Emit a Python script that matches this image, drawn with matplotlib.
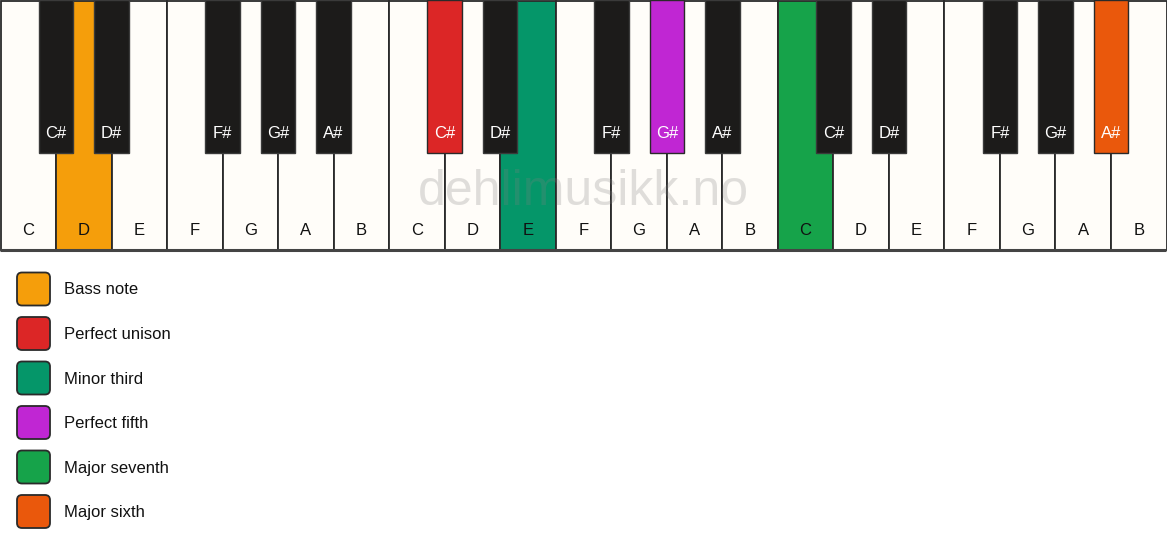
import matplotlib
matplotlib.use("Agg")
import matplotlib.pyplot as plt
from matplotlib.patches import Rectangle, FancyBboxPatch

plt.rcParams['font.family'] = ['Liberation Sans', 'DejaVu Sans']

# ---- data ----
octaves = 3
white_notes = ['C', 'D', 'E', 'F', 'G', 'A', 'B']
black_notes = ['C#', 'D#', 'F#', 'G#', 'A#']
black_after_white = [0, 1, 3, 4, 5]  # black key sits after this white index in octave

# highlighted keys: (note, octave index, legend label)
highlights = [
    ('D', 0, 'Bass note'),
    ('C#', 1, 'Perfect unison'),
    ('E', 1, 'Minor third'),
    ('G#', 1, 'Perfect fifth'),
    ('C', 2, 'Major seventh'),
    ('A#', 2, 'Major sixth'),
]
legend_labels = ['Bass note', 'Perfect unison', 'Minor third',
                 'Perfect fifth', 'Major seventh', 'Major sixth']
legend_colors = ['#F59E0B', '#DC2626', '#059669', '#C026D3', '#16A34A', '#EA580C']
watermark = 'dehlimusikk.no'

# ---- layout ----
W, H = 1167, 550
fig = plt.figure(figsize=(W / 100, H / 100), dpi=100)
ax = fig.add_axes([0, 0, 1, 1])
ax.set_xlim(0, W)
ax.set_ylim(H, 0)
ax.axis('off')
fig.patch.set_facecolor('white')

n_white = len(white_notes) * octaves
kw = (W - 1) / n_white
white_h = 249
black_w = 34.5
black_h = 153

color_of = {lab: c for lab, c in zip(legend_labels, legend_colors)}
hl = {(n, o): color_of[lab] for n, o, lab in highlights}

# white keys
for o in range(octaves):
    for i, n in enumerate(white_notes):
        x = (o * 7 + i) * kw + 0.5
        fc = hl.get((n, o), '#FFFDF9')
        ax.add_patch(Rectangle((x, 0.5), kw, white_h, facecolor=fc,
                               edgecolor='#2a2a2a', lw=1.3, zorder=1))
        ax.text(x + kw / 2, 230.5, n, ha='center', va='center',
                fontsize=12, color='#111111', zorder=5)

# bottom border
ax.plot([0, W - 1], [white_h + 0.5, white_h + 0.5], color='#444444', lw=2.2, zorder=2,
        solid_capstyle='butt')

# watermark
ax.text(W / 2, 192, watermark, ha='center', va='center', fontsize=36,
        color='#808080', alpha=0.25, zorder=3)

# black keys
for o in range(octaves):
    for n, wi in zip(black_notes, black_after_white):
        cx = (o * 7 + wi + 1) * kw + 0.5
        fc = hl.get((n, o), '#1C1B1A')
        ec = '#2a2a2a' if (n, o) in hl else '#3a3a3a'
        ax.add_patch(Rectangle((cx - black_w / 2, 0), black_w, black_h,
                               facecolor=fc, edgecolor=ec, lw=1.0, zorder=4))
        ax.text(cx, 133, n, ha='center', va='center', fontsize=12,
                color='white', zorder=5)

# legend
for k, (lab, c) in enumerate(zip(legend_labels, legend_colors)):
    cy = 289 + k * 44.5
    ax.add_patch(FancyBboxPatch((17 + 5, cy - 16.5 + 5), 33 - 10, 33 - 10,
                                boxstyle='round,pad=5', facecolor=c,
                                edgecolor='#2a2a2a', lw=1.3, zorder=4))
    ax.text(64, cy + 1, lab, ha='left', va='center', fontsize=12,
            color='#111111', zorder=5)

fig.savefig('out.png', dpi=100)
